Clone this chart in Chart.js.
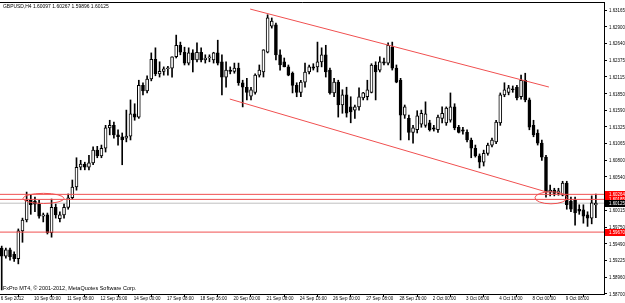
<!DOCTYPE html>
<html><head><meta charset="utf-8">
<script src="https://cdn.jsdelivr.net/npm/chart.js@4.4.1/dist/chart.umd.min.js"></script>
<style>html,body{margin:0;padding:0;background:#fff;overflow:hidden}canvas{display:block}</style>
</head><body>
<canvas id="c" width="625" height="303"></canvas>
<script>
const symbolTitle = 'GBPUSD,H4 1.60097 1.60267 1.59896 1.60125';
const copyrightText = 'FxPro MT4, \u00A9 2001-2012, MetaQuotes Software Corp.';

const opens = [
1.5942,1.5929,1.5939,1.5932,1.5925,1.5969,1.5986,1.6017,1.6016,1.6011,
1.5992,1.5994,1.5966,1.6006,1.5988,1.5994,1.6006,1.6021,1.6038,1.6069,
1.6074,1.6069,1.6076,1.6096,1.6087,1.6099,1.6131,1.6135,1.6120,1.6117,
1.6115,1.6118,1.6153,1.6148,1.6198,1.6189,1.6208,1.6239,1.6216,1.6220,
1.6224,1.6225,1.6243,1.6261,1.6250,1.6233,1.6249,1.6238,1.6250,1.6238,
1.6241,1.6238,1.6249,1.6235,1.6211,1.6222,1.6220,1.6225,1.6202,1.6195,
1.6181,1.6187,1.6214,1.6219,1.6250,1.6291,1.6293,1.6246,1.6235,1.6227,
1.6217,1.6198,1.6187,1.6203,1.6219,1.6227,1.6227,1.6235,1.6246,1.6222,
1.6186,1.6203,1.6167,1.6183,1.6164,1.6159,1.6164,1.6178,1.6180,1.6187,
1.6230,1.6222,1.6235,1.6233,1.6258,1.6225,1.6206,1.6151,1.6146,1.6124,
1.6128,1.6137,1.6135,1.6139,1.6131,1.6128,1.6146,1.6139,1.6143,1.6164,
1.6132,1.6128,1.6124,1.6112,1.6099,1.6087,1.6077,1.6091,1.6104,1.6109,
1.6139,1.6183,1.6187,1.6192,1.6195,1.6180,1.6206,1.6175,1.6135,1.6123,
1.6107,1.6085,1.6030,1.6033,1.6028,1.6025,1.6044,1.6016,1.6017,1.6003,
1.6002,1.5994,1.5989,1.60097];
const highs = [
1.5945,1.5942,1.5942,1.5936,1.5972,1.5989,1.6030,1.6025,1.6022,1.6017,
1.5997,1.5997,1.6019,1.6011,1.5999,1.6011,1.6027,1.6049,1.6084,1.6080,
1.6077,1.6088,1.6101,1.6102,1.6104,1.6135,1.6143,1.6140,1.6128,1.6123,
1.6159,1.6175,1.6169,1.6206,1.6202,1.6213,1.6249,1.6257,1.6235,1.6227,
1.6228,1.6243,1.6277,1.6266,1.6258,1.6257,1.6254,1.6265,1.6257,1.6246,
1.6246,1.6250,1.6269,1.6246,1.6235,1.6227,1.6233,1.6233,1.6206,1.6209,
1.6195,1.6216,1.6230,1.6254,1.6309,1.6304,1.6296,1.6254,1.6241,1.6230,
1.6219,1.6202,1.6206,1.6233,1.6230,1.6232,1.6266,1.6257,1.6261,1.6225,
1.6209,1.6206,1.6191,1.6195,1.6180,1.6167,1.6194,1.6187,1.6206,1.6232,
1.6235,1.6243,1.6241,1.6265,1.6266,1.6230,1.6209,1.6167,1.6151,1.6135,
1.6158,1.6159,1.6172,1.6143,1.6135,1.6151,1.6164,1.6164,1.6186,1.6169,
1.6135,1.6132,1.6128,1.6115,1.6104,1.6090,1.6096,1.6107,1.6115,1.6143,
1.6186,1.6202,1.6198,1.6197,1.6198,1.6214,1.6217,1.6178,1.6143,1.6128,
1.6112,1.6088,1.6041,1.6036,1.6036,1.6047,1.6047,1.6022,1.6022,1.6010,
1.6010,1.5999,1.6024,1.60267];
const lows = [
1.5876,1.5926,1.5923,1.5921,1.5917,1.5951,1.5983,1.5995,1.5999,1.5989,
1.5983,1.5964,1.5959,1.5989,1.5983,1.5989,1.6003,1.6019,1.6033,1.6065,
1.6065,1.6065,1.6073,1.6084,1.6084,1.6093,1.6120,1.6115,1.6104,1.6073,
1.6109,1.6112,1.6143,1.6146,1.6183,1.6186,1.6205,1.6213,1.6211,1.6214,
1.6214,1.6211,1.6241,1.6246,1.6230,1.6230,1.6219,1.6235,1.6235,1.6233,
1.6235,1.6233,1.6230,1.6183,1.6195,1.6216,1.6217,1.6198,1.6164,1.6175,
1.6175,1.6184,1.6211,1.6211,1.6249,1.6288,1.6238,1.6222,1.6227,1.6213,
1.6186,1.6180,1.6180,1.6195,1.6216,1.6222,1.6219,1.6227,1.6211,1.6184,
1.6180,1.6148,1.6154,1.6148,1.6139,1.6146,1.6159,1.6175,1.6175,1.6186,
1.6175,1.6219,1.6230,1.6230,1.6222,1.6202,1.6112,1.6146,1.6112,1.6107,
1.6123,1.6132,1.6132,1.6126,1.6126,1.6124,1.6139,1.6135,1.6140,1.6128,
1.6123,1.6121,1.6109,1.6084,1.6085,1.6068,1.6071,1.6088,1.6101,1.6106,
1.6135,1.6180,1.6183,1.6187,1.6175,1.6176,1.6172,1.6128,1.6117,1.6104,
1.6080,1.6022,1.6024,1.6024,1.6025,1.6024,1.6003,1.5999,1.5978,1.5995,
1.5981,1.5976,1.5980,1.59896];
const closes = [
1.5929,1.5939,1.5928,1.5925,1.5969,1.5986,1.6017,1.6010,1.6011,1.5992,
1.5994,1.5966,1.6006,1.5994,1.5994,1.6006,1.6021,1.6038,1.6069,1.6074,
1.6069,1.6076,1.6096,1.6087,1.6099,1.6131,1.6135,1.6120,1.6117,1.6112,
1.6118,1.6153,1.6148,1.6198,1.6189,1.6208,1.6239,1.6216,1.6220,1.6224,
1.6225,1.6243,1.6261,1.6250,1.6233,1.6249,1.6238,1.6250,1.6238,1.6241,
1.6243,1.6249,1.6233,1.6211,1.6222,1.6220,1.6225,1.6202,1.6195,1.6187,
1.6191,1.6214,1.6222,1.6254,1.6304,1.6299,1.6246,1.6230,1.6227,1.6214,
1.6198,1.6187,1.6203,1.6219,1.6227,1.6225,1.6235,1.6246,1.6219,1.6186,
1.6203,1.6167,1.6183,1.6154,1.6156,1.6164,1.6180,1.6186,1.6191,1.6230,
1.6219,1.6235,1.6233,1.6261,1.6225,1.6203,1.6151,1.6164,1.6124,1.6131,
1.6150,1.6154,1.6153,1.6128,1.6129,1.6148,1.6154,1.6162,1.6164,1.6131,
1.6124,1.6126,1.6112,1.6099,1.6087,1.6077,1.6091,1.6104,1.6112,1.6140,
1.6183,1.6191,1.6194,1.6191,1.6178,1.6206,1.6175,1.6132,1.6120,1.6107,
1.6085,1.6030,1.6033,1.6028,1.6032,1.6044,1.6010,1.6003,1.5997,1.6000,
1.5992,1.5989,1.6013,1.60125];

const timeTickIndex = [0,8,16,24,32,40,48,56,64,72,80,88,96,104,112,120,128,136];
const timeTickLabels = ['6 Sep 2012','10 Sep 00:00','11 Sep 08:00','12 Sep 16:00','14 Sep 00:00',
  '17 Sep 08:00','18 Sep 16:00','20 Sep 00:00','21 Sep 08:00','24 Sep 16:00','26 Sep 00:00',
  '27 Sep 08:00','28 Sep 16:00','2 Oct 00:00','3 Oct 08:00','4 Oct 16:00','8 Oct 00:00','9 Oct 08:00'];
const priceTicks = [1.63165,1.62900,1.62640,1.62375,1.62115,1.61850,1.61590,1.61325,1.61065,
  1.60800,1.60540,1.60275,1.60015,1.59750,1.59490,1.59225,1.58960,1.58700];
const levelLines = [1.60264, 1.60185, 1.59670];
const bidPrice = 1.60125;
const channelUpper = [{x:59.8, y:1.63180}, {x:131.7, y:1.61953}];
const channelLower = [{x:54.9, y:1.61764}, {x:131.2, y:1.60300}];
const ellipseMarks = [{x:10.06, y:1.60200, rx:4.93, ry:0.00080}, {x:132.2, y:1.60210, rx:3.85, ry:0.00095}];

const X_MIN = -0.41, X_MAX = 144.96, Y_MIN = 1.58696, Y_MAX = 1.63291;
const FONT = "'Liberation Sans', Arial, sans-serif";
const RED = '#f05050';

const idx = opens.map((_, i) => i);
const bodies = idx.map(i => ({x: i, y: [opens[i], closes[i]]}));
const wicks = idx.map(i => ({x: i, y: [lows[i], highs[i]]}));
const bodyFill = idx.map(i => closes[i] >= opens[i] ? '#ffffff' : '#000000');

function condText(ctx, text, x, y, size, sx, color) {
  ctx.save();
  ctx.translate(x, y); ctx.scale(sx, 1);
  ctx.font = size + 'px ' + FONT; ctx.fillStyle = color;
  ctx.textAlign = 'left'; ctx.textBaseline = 'middle';
  ctx.fillText(text, 0, 0);
  ctx.restore();
}

const overlay = {
  id: 'overlay',
  afterDraw(chart) {
    const ctx = chart.ctx, xs = chart.scales.x, ys = chart.scales.y, a = chart.chartArea;
    ctx.save();
    ctx.strokeStyle = '#000'; ctx.lineWidth = 1;
    ctx.beginPath(); ctx.moveTo(a.left, a.top + 0.5); ctx.lineTo(a.right + 0.5, a.top + 0.5); ctx.stroke();
    ctx.strokeStyle = RED; ctx.lineWidth = 1;
    ellipseMarks.forEach(e => {
      const cx = xs.getPixelForValue(e.x), cy = ys.getPixelForValue(e.y);
      const rx = Math.abs(xs.getPixelForValue(e.x + e.rx) - cx);
      const ry = Math.abs(ys.getPixelForValue(e.y + e.ry) - cy);
      ctx.beginPath(); ctx.ellipse(cx, cy, rx, ry, 0, 0, Math.PI * 2); ctx.stroke();
    });
    // price axis labels
    priceTicks.forEach(v => condText(ctx, v.toFixed(5), a.right + 5, ys.getPixelForValue(v) + 0.5, 5.5, 0.8, '#000'));
    // time axis labels
    timeTickIndex.forEach((v, k) => condText(ctx, timeTickLabels[k], xs.getPixelForValue(v) - 1, 298.5, 5.5, 0.82, '#000'));
    // level / bid labels
    const box = (v, bg) => {
      const y = Math.round(ys.getPixelForValue(v));
      ctx.fillStyle = bg; ctx.fillRect(a.right + 1, y - 3, 21, 7);
      condText(ctx, v.toFixed(5), a.right + 5, y + 0.5, 5.5, 0.8, '#fff');
    };
    levelLines.forEach(v => box(v, '#ff0000'));
    box(bidPrice, '#000000');
    condText(ctx, symbolTitle, 3, 6.5, 5.5, 0.9, '#000');
    condText(ctx, copyrightText, 3, 288.5, 5.5, 1.0, '#000');
    ctx.restore();
  }
};

new Chart(document.getElementById('c'), {
  type: 'bar',
  data: {
    datasets: [
      {type: 'line', data: [{x: X_MIN, y: bidPrice}, {x: X_MAX, y: bidPrice}], borderColor: '#c0c0c0', borderWidth: 1, pointRadius: 0, order: 5},
      {type: 'bar', data: wicks, backgroundColor: '#000', barThickness: 1, grouped: false, order: 3},
      {type: 'bar', data: bodies, backgroundColor: bodyFill, borderColor: '#000', borderWidth: 1, borderSkipped: false, barThickness: 3, minBarLength: 1, grouped: false, order: 2},
      ...levelLines.map(v => ({type: 'line', data: [{x: X_MIN, y: v}, {x: X_MAX, y: v}], borderColor: RED, borderWidth: 1, pointRadius: 0, order: 1})),
      {type: 'line', data: channelUpper, borderColor: RED, borderWidth: 1, pointRadius: 0, order: 1},
      {type: 'line', data: channelLower, borderColor: RED, borderWidth: 1, pointRadius: 0, order: 1}
    ]
  },
  options: {
    responsive: false, animation: false, devicePixelRatio: 1, events: [],
    layout: {padding: {top: 2, left: 0, right: 0, bottom: 0}},
    plugins: {legend: {display: false}, tooltip: {enabled: false}},
    scales: {
      x: {
        type: 'linear', min: X_MIN, max: X_MAX, offset: false,
        afterBuildTicks: s => { s.ticks = timeTickIndex.map(v => ({value: v})); },
        afterFit: s => { s.height = 9; },
        ticks: {display: false, autoSkip: false, maxRotation: 0},
        grid: {drawOnChartArea: false, drawTicks: true, tickLength: 3, color: '#000'},
        border: {display: true, color: '#000'}
      },
      y: {
        type: 'linear', position: 'right', min: Y_MIN, max: Y_MAX,
        afterBuildTicks: s => { s.ticks = priceTicks.map(v => ({value: v})); },
        afterFit: s => { s.width = 21; },
        ticks: {display: false},
        grid: {drawOnChartArea: false, drawTicks: true, tickLength: 3, color: '#000'},
        border: {display: true, color: '#000'}
      }
    }
  },
  plugins: [overlay]
});
</script>
</body></html>
